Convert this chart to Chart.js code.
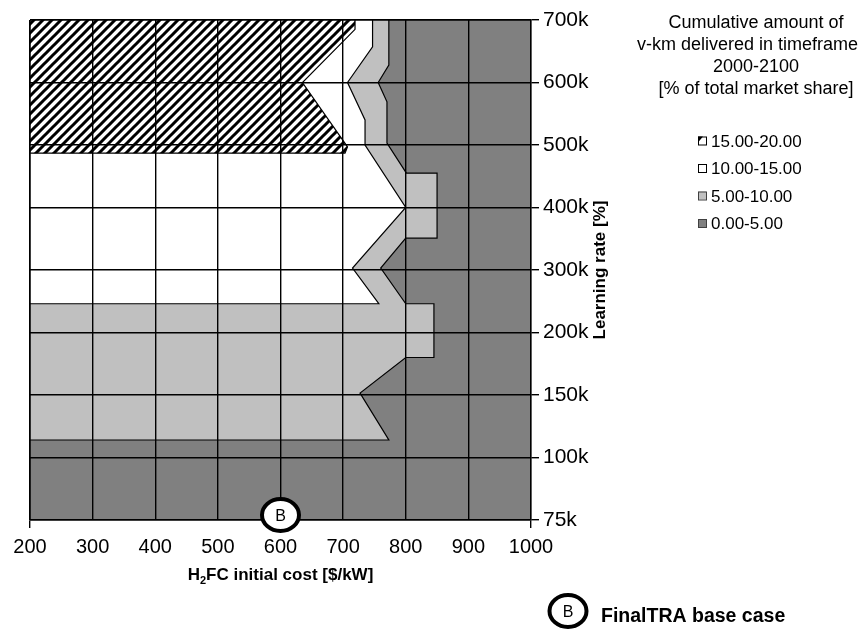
<!DOCTYPE html>
<html>
<head>
<meta charset="utf-8">
<script src="https://cdn.jsdelivr.net/npm/chart.js@4.4.1/dist/chart.umd.min.js"></script>
<style>
  html, body { margin: 0; padding: 0; background: #fff; }
  canvas { display: block; }
</style>
</head>
<body>
<canvas id="c" width="860" height="630"></canvas>
<script>
// Axis categories
const costTicks = [200, 300, 400, 500, 600, 700, 800, 900, 1000];
const rateLabels = ['75k', '100k', '150k', '200k', '300k', '400k', '500k', '600k', '700k'];

// Legend
const legendTitle = ['Cumulative amount of', 'v-km delivered in timeframe', '2000-2100', '[% of total market share]'];
const bandLabels = ['15.00-20.00', '10.00-15.00', '5.00-10.00', '0.00-5.00'];

// Band outlines: cost in $/kW, learning rate as row position (0 = 75k ... 8 = 700k)
const band15Cost = [200, 719, 719, 635, 707, 703, 200];
const band15Row  = [8, 8, 7.85, 7.0, 5.97, 5.87, 5.87];

const band10Cost = [200, 747, 747, 707, 735, 735, 800, 715, 757, 200];
const band10Row  = [8, 8, 7.57, 7.0, 6.4, 6.0, 5.0, 4.03, 3.46, 3.46];

const band5Cost = [200, 773, 773, 756, 770, 770, 801, 850, 850, 800, 760, 800, 845, 845, 800, 727, 773, 200];
const band5Row  = [8, 8, 7.28, 7.0, 6.69, 6.03, 5.55, 5.55, 4.51, 4.51, 4.03, 3.46, 3.46, 2.6, 2.6, 2.03, 1.28, 1.28];

const band0Cost = [200, 1000, 1000, 200];
const band0Row  = [0, 0, 8, 8];

// Base case marker
const baseCaseCost = [600];
const baseCaseRow = [0];
const baseCaseLabel = 'FinalTRA base case';

const FONT = '"Liberation Sans", Arial, Helvetica, sans-serif';
const DARK = '#808080';
const LIGHT = '#c0c0c0';

function hatchPattern() {
  const t = document.createElement('canvas');
  t.width = 9; t.height = 9;
  const g = t.getContext('2d');
  g.fillStyle = '#fff';
  g.fillRect(0, 0, 9, 9);
  g.strokeStyle = '#000';
  g.lineWidth = 3;
  g.beginPath();
  g.moveTo(-1, 10); g.lineTo(10, -1);
  g.moveTo(-2, 2); g.lineTo(2, -2);
  g.moveTo(7, 11); g.lineTo(11, 7);
  g.stroke();
  return g.createPattern(t, 'repeat');
}
const HATCH = hatchPattern();

function outline(costs, rows) {
  const pts = costs.map((x, i) => ({ x, y: rows[i] }));
  pts.push({ x: costs[0], y: rows[0] });
  return pts;
}

function band(label, costs, rows, fillStyle, order) {
  return {
    label,
    data: outline(costs, rows),
    showLine: true,
    fill: 'shape',
    backgroundColor: fillStyle,
    borderColor: '#000',
    borderWidth: 1.2,
    pointRadius: 0,
    pointHoverRadius: 0,
    tension: 0,
    order
  };
}

function drawBadge(ctx, cx, cy) {
  ctx.save();
  ctx.beginPath();
  ctx.ellipse(cx, cy, 18.5, 16, 0, 0, Math.PI * 2);
  ctx.fillStyle = '#fff';
  ctx.fill();
  ctx.lineWidth = 4;
  ctx.strokeStyle = '#000';
  ctx.stroke();
  ctx.fillStyle = '#000';
  ctx.font = '16px ' + FONT;
  ctx.textAlign = 'center';
  ctx.textBaseline = 'alphabetic';
  ctx.fillText('B', cx, cy + 6);
  ctx.restore();
}

const decorations = {
  id: 'decorations',
  afterDraw(chart) {
    const { ctx, chartArea, scales } = chart;
    ctx.save();
    ctx.fillStyle = '#000';

    // x axis title with subscript
    const cx = (chartArea.left + chartArea.right) / 2;
    const base = 580;
    ctx.font = 'bold 17px ' + FONT;
    const wH = ctx.measureText('H').width;
    const rest = 'FC initial cost [$/kW]';
    const wRest = ctx.measureText(rest).width;
    ctx.font = 'bold 11px ' + FONT;
    const w2 = ctx.measureText('2').width;
    const x0 = cx - (wH + w2 + wRest) / 2;
    ctx.textAlign = 'left';
    ctx.textBaseline = 'alphabetic';
    ctx.font = 'bold 17px ' + FONT;
    ctx.fillText('H', x0, base);
    ctx.font = 'bold 11px ' + FONT;
    ctx.fillText('2', x0 + wH, base + 4);
    ctx.font = 'bold 17px ' + FONT;
    ctx.fillText(rest, x0 + wH + w2, base);

    // y axis title, reading upward
    ctx.save();
    ctx.translate(600, (chartArea.top + chartArea.bottom) / 2);
    ctx.rotate(-Math.PI / 2);
    ctx.textAlign = 'center';
    ctx.textBaseline = 'middle';
    ctx.font = 'bold 17px ' + FONT;
    ctx.fillText('Learning rate [%]', 0, 0);
    ctx.restore();

    // legend title, centred but kept inside the canvas
    ctx.font = '18px ' + FONT;
    ctx.textAlign = 'center';
    legendTitle.forEach((line, i) => {
      const w = ctx.measureText(line).width;
      const lx = Math.min(756, chart.width - 2 - w / 2);
      ctx.fillText(line, lx, 28 + 22 * i);
    });

    // legend entries
    const fills = [HATCH, '#fff', LIGHT, DARK];
    ctx.font = '17px ' + FONT;
    ctx.textAlign = 'left';
    bandLabels.forEach((label, i) => {
      const by = 146.5 + 27.5 * i;
      const sx = 698, sy = by - 10;
      ctx.fillStyle = fills[i] === HATCH ? '#fff' : fills[i];
      ctx.fillRect(sx, sy, 8, 8);
      if (fills[i] === HATCH) {
        ctx.fillStyle = '#000';
        ctx.beginPath();
        ctx.moveTo(sx, sy); ctx.lineTo(sx + 5, sy); ctx.lineTo(sx, sy + 6); ctx.closePath();
        ctx.fill();
      }
      ctx.strokeStyle = i >= 2 ? '#404040' : '#000';
      ctx.lineWidth = 1;
      ctx.strokeRect(sx + 0.5, sy + 0.5, 8, 8);
      ctx.fillStyle = '#000';
      ctx.fillText(label, 711, by);
    });

    // base case markers
    const bx = scales.x.getPixelForValue(baseCaseCost[0]);
    const by = scales.y.getPixelForValue(baseCaseRow[0]);
    drawBadge(ctx, bx, by - 5);

    drawBadge(ctx, 568, 611);
    ctx.fillStyle = '#000';
    ctx.font = 'bold 19.5px ' + FONT;
    ctx.textAlign = 'left';
    ctx.textBaseline = 'alphabetic';
    ctx.fillText(baseCaseLabel, 601, 622);

    ctx.restore();
  }
};

new Chart(document.getElementById('c'), {
  type: 'scatter',
  data: {
    datasets: [
      band(bandLabels[0], band15Cost, band15Row, HATCH, 1),
      band(bandLabels[1], band10Cost, band10Row, '#fff', 2),
      band(bandLabels[2], band5Cost, band5Row, LIGHT, 3),
      band(bandLabels[3], band0Cost, band0Row, DARK, 4)
    ]
  },
  options: {
    responsive: false,
    animation: false,
    devicePixelRatio: 1,
    events: [],
    layout: { padding: { left: 30, top: 20, right: 269, bottom: 70 } },
    plugins: {
      legend: { display: false },
      tooltip: { enabled: false }
    },
    scales: {
      x: {
        type: 'linear',
        min: costTicks[0],
        max: costTicks[costTicks.length - 1],
        afterBuildTicks: s => { s.ticks = costTicks.map(v => ({ value: v })); },
        ticks: {
          font: { family: FONT, size: 20 }, color: '#000', padding: 7, maxRotation: 0, autoSkip: false,
          callback: v => String(v)
        },
        grid: {
          z: 1,
          color: '#000',
          lineWidth: 1.4,
          tickLength: 8,
          tickColor: c => (c.index === 0 || c.index === costTicks.length - 1) ? '#000' : 'rgba(0,0,0,0)'
        },
        border: { z: 1, color: '#000', width: 1.4 },
        afterFit: s => { s.height = 40; }
      },
      y: {
        type: 'linear',
        position: 'right',
        min: 0,
        max: rateLabels.length - 1,
        afterBuildTicks: s => { s.ticks = rateLabels.map((_, i) => ({ value: i })); },
        ticks: { font: { family: FONT, size: 21 }, color: '#000', padding: 4, autoSkip: false, callback: v => rateLabels[v] },
        grid: { z: 1, color: '#000', lineWidth: 1.4, tickLength: 8 },
        border: { z: 1, color: '#000', width: 1.4 },
        afterFit: s => { s.width = 60; }
      }
    }
  },
  plugins: [decorations]
});
</script>
</body>
</html>
